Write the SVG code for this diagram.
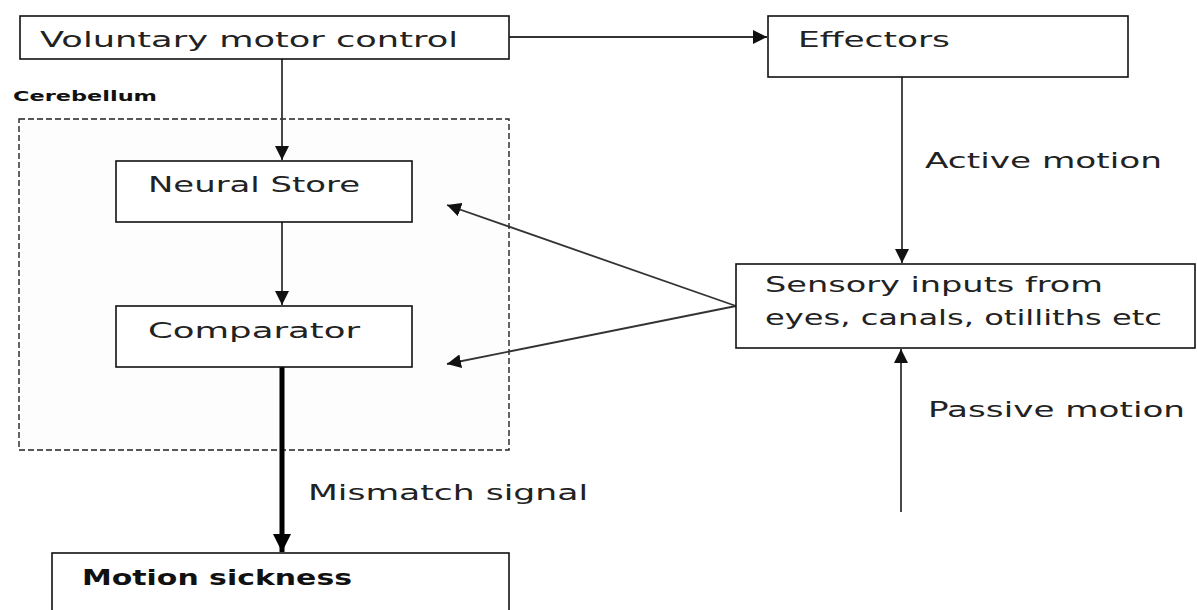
<svg xmlns="http://www.w3.org/2000/svg" width="1197" height="610" viewBox="0 0 1197 610">
<style>
.box{fill:#fff;stroke:#111;stroke-width:1.6}
.dash{fill:#fdfdfd;stroke:#222;stroke-width:1.4;stroke-dasharray:6 3}
.t{font-family:"DejaVu Sans",Verdana,sans-serif;font-size:22px;fill:#222}
.b{font-weight:bold;fill:#111}
.ln{stroke:#333;stroke-width:1.8;fill:none}
</style>
<defs>
<marker id="ahs" viewBox="0 0 10 10" refX="10" refY="5" markerWidth="14" markerHeight="14" markerUnits="userSpaceOnUse" orient="auto">
<path d="M0,0 L10,5 L0,10 z" fill="#111"/>
</marker>
<marker id="ahb" viewBox="0 0 10 10" refX="10" refY="5" markerWidth="18" markerHeight="18" markerUnits="userSpaceOnUse" orient="auto">
<path d="M0,0 L10,5 L0,10 z" fill="#000"/>
</marker>
</defs>
<rect width="1197" height="610" fill="#fff"/>

<g id="cerebellum">
<rect class="dash" x="19" y="119" width="490" height="331"/>
<text class="t b" x="13" y="101" style="font-size:14px" textLength="144" lengthAdjust="spacingAndGlyphs">Cerebellum</text>
</g>

<g id="connectors">
<line class="ln" x1="509" y1="37" x2="767" y2="37" marker-end="url(#ahs)"/>
<line class="ln" x1="282" y1="59" x2="282" y2="160" marker-end="url(#ahs)"/>
<line class="ln" x1="282" y1="222" x2="282" y2="305" marker-end="url(#ahs)"/>
<line x1="282" y1="367" x2="282" y2="552" stroke="#000" stroke-width="5" marker-end="url(#ahb)"/>
<line class="ln" x1="902" y1="77" x2="902" y2="263" marker-end="url(#ahs)"/>
<line class="ln" x1="901" y1="512" x2="901" y2="349" marker-end="url(#ahs)"/>
<line class="ln" x1="736" y1="306" x2="447" y2="205" marker-end="url(#ahs)"/>
<line class="ln" x1="736" y1="306" x2="447" y2="364" marker-end="url(#ahs)"/>
<text class="t" x="925" y="168" textLength="237" lengthAdjust="spacingAndGlyphs">Active motion</text>
<text class="t" x="928" y="417" textLength="257" lengthAdjust="spacingAndGlyphs">Passive motion</text>
<text class="t" x="308" y="500" textLength="280" lengthAdjust="spacingAndGlyphs">Mismatch signal</text>
</g>

<g id="voluntary">
<rect class="box" x="20" y="16" width="489" height="43"/>
<text class="t" x="40" y="47" textLength="418" lengthAdjust="spacingAndGlyphs">Voluntary motor control</text>
</g>

<g id="effectors">
<rect class="box" x="768" y="16" width="360" height="61"/>
<text class="t" x="798" y="47" textLength="152" lengthAdjust="spacingAndGlyphs">Effectors</text>
</g>

<g id="neural-store">
<rect class="box" x="116" y="161" width="296" height="61"/>
<text class="t" x="148" y="192" textLength="212" lengthAdjust="spacingAndGlyphs">Neural Store</text>
</g>

<g id="comparator">
<rect class="box" x="116" y="306" width="296" height="61"/>
<text class="t" x="148" y="338" textLength="212" lengthAdjust="spacingAndGlyphs">Comparator</text>
</g>

<g id="sensory">
<rect class="box" x="736" y="264" width="459" height="84"/>
<text class="t" x="765" y="292" textLength="338" lengthAdjust="spacingAndGlyphs">Sensory inputs from</text>
<text class="t" x="765" y="325" textLength="397" lengthAdjust="spacingAndGlyphs">eyes, canals, otilliths etc</text>
</g>

<g id="motion-sickness">
<rect class="box" x="52" y="553" width="457" height="70"/>
<text class="t b" x="82" y="585" textLength="270" lengthAdjust="spacingAndGlyphs">Motion sickness</text>
</g>
</svg>
